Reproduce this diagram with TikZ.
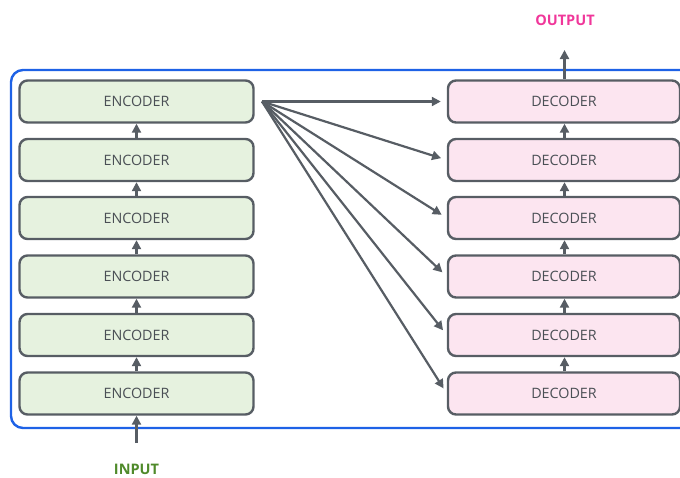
\documentclass[tikz,border=0pt]{standalone}
\usepackage{fontspec}
\setmainfont{Open Sans}
\usetikzlibrary{arrows.meta}
\definecolor{edge}{HTML}{575D64}
\definecolor{encfill}{HTML}{E6F2DF}
\definecolor{decfill}{HTML}{FCE5F0}
\definecolor{frameblue}{HTML}{1E62E6}
\definecolor{outpink}{HTML}{F0379A}
\definecolor{ingreen}{HTML}{4F8A2A}
\tikzset{
  block/.style={draw=edge, line width=2.4pt, rounded corners=8pt,
    minimum height=42pt, text=edge!85!black, font=\fontsize{14.3}{16}\selectfont, inner sep=0pt},
  encblock/.style={block, fill=encfill, minimum width=234pt},
  decblock/.style={block, fill=decfill, minimum width=232pt},
  link/.style={draw=edge, line width=2.2pt, -{Triangle[length=9pt,width=9pt]}},
  label/.style={font=\bfseries\fontsize{14.5}{16}\selectfont}
}
\begin{document}
\begin{tikzpicture}[x=1pt,y=-1pt]
\useasboundingbox (0,0) rectangle (680,477);
% outer frame
\draw[frameblue, line width=2.4pt, rounded corners=12pt] (11,70) rectangle (700,428);
% encoder and decoder stacks
\foreach \i/\yy in {1/101.5,2/160,3/218,4/276.5,5/335,6/393.5}{
  \node[encblock] (e\i) at (136.5,\yy) {ENCODER};
  \node[decblock] (d\i) at (564,\yy) {DECODER};
}
\foreach \a/\b in {2/1,3/2,4/3,5/4,6/5}{
  \draw[link] (e\a.north) -- (e\b.south);
  \draw[link] ([xshift=0.5pt]d\a.north) -- ([xshift=0.5pt]d\b.south);
}
% fan-out from top encoder
\coordinate (src) at (262,101.5);
\foreach \i in {1,...,6}{
  \draw[link, shorten >=6pt] (src) -- (d\i.west);
}
% input and output
\node[label, text=ingreen] (in) at (136.5,469.5) {INPUT};
\node[label, text=outpink] (out) at (565,20) {OUTPUT};
\coordinate (inTail) at (136.5,443);
\coordinate (outHead) at (564.5,50);
\draw[link] (inTail) -- (e6.south);
\draw[link] ([xshift=0.5pt]d1.north) -- (outHead);
\end{tikzpicture}
\end{document}
